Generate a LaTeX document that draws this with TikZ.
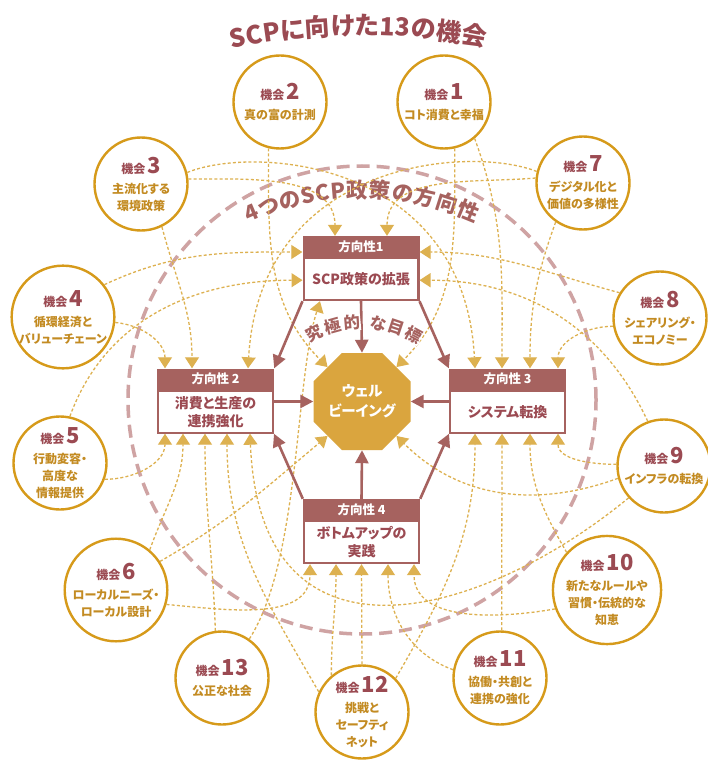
\documentclass[tikz,border=0pt]{standalone}
\usepackage{fontspec}
\setmainfont[RawFeature=+palt]{Noto Sans CJK JP}
\usetikzlibrary{arrows.meta,positioning,shapes.geometric,decorations.text}

\definecolor{rose}{HTML}{A6625F}
\definecolor{rosedark}{HTML}{9B4A52}
\definecolor{gold}{HTML}{D69A1A}
\definecolor{goldtext}{HTML}{C38B22}
\definecolor{goldline}{HTML}{DDB150}
\definecolor{octfill}{HTML}{DAA53E}
\definecolor{pinkdash}{HTML}{CFA3A3}

\newcommand{\kikai}[1]{{\fontsize{12}{12}\selectfont\color{rosedark}機会}\,{\fontsize{22}{22}\selectfont\color{rosedark}#1}\\[3pt]}

\begin{document}
\begin{tikzpicture}[x=1pt,y=1pt]
    %
    % `chance' is used for the 13 opportunity circles.
    % `dirhead' and `dirbody' make up the four direction boxes.
    % `link' is the dashed gold connector, `flow' the solid rose one.
    \tikzstyle{chance} = [circle,draw=gold,line width=2.4pt,fill=white,minimum size=93pt,inner sep=0pt,align=center,text=goldtext,font=\fontsize{12}{17}\selectfont\bfseries]
    \tikzstyle{dirhead} = [fill=rose,text=white,minimum width=117pt,minimum height=21pt,inner sep=0pt,font=\fontsize{12.5}{14}\selectfont\bfseries]
    \tikzstyle{dirbody} = [draw=rose,line width=2.2pt,fill=white,minimum width=114.8pt,minimum height=41.8pt,inner sep=0pt,align=center,text=rosedark,font=\fontsize{14}{18}\selectfont\bfseries]
    \tikzstyle{goal} = [regular polygon,regular polygon sides=8,fill=octfill,minimum size=105pt,inner sep=0pt,align=center,text=white,font=\fontsize{14.5}{20}\selectfont\bfseries]
    \tikzstyle{goalchar} = [fill=white,inner sep=0.3pt,text=rose,font=\fontsize{16.5}{17}\selectfont\bfseries]
    \tikzstyle{ring} = [pinkdash,line width=3.5pt,dash pattern=on 13pt off 7pt]
    \tikzstyle{link} = [goldline,line width=1.3pt,dash pattern=on 3pt off 2.2pt,-{Triangle[width=14pt,length=11pt]}]
    \tikzstyle{flow} = [rose,line width=2.6pt,-{Triangle[width=13pt,length=13pt]}]
    %
    % Canvas and policy ring
    \useasboundingbox[fill=white] (0,0) rectangle (707,-762);
    \draw[ring] (362,-400) circle[radius=234];
    %
    % Curved headings
    \path[decorate,decoration={text along path,text color=rosedark,text align={fit to path},
        text={|\fontsize{25}{25}\selectfont\bfseries|SCPに向けた13の機会}}]
        ([shift={(102:626)}]362,-661) arc[start angle=102,end angle=78.7,radius=626];
    \path[decorate,decoration={text along path,text color=rose,text align={fit to path},
        text={|\fontsize{21.5}{22}\selectfont\bfseries|4つのSCP政策の方向性}}]
        ([shift={(114.5:273)}]362,-471) arc[start angle=114.5,end angle=65.5,radius=273];
    %
    % Opportunities
    \node[chance] (o1) at (444,-102) {\kikai{1}コト消費と幸福};
    \node[chance] (o2) at (280,-102) {\kikai{2}真の富の計測};
    \node[chance] (o3) at (141,-184) {\kikai{3}主流化する\\環境政策};
    \node[chance] (o4) at (63,-317) {\kikai{4}循環経済と\\バリューチェーン};
    \node[chance] (o5) at (60,-463) {\kikai{5}行動変容・\\高度な\\情報提供};
    \node[chance] (o6) at (116,-590) {\kikai{6}ローカルニーズ・\\ローカル設計};
    \node[chance] (o7) at (583,-183) {\kikai{7}デジタル化と\\価値の多様性};
    \node[chance] (o8) at (660,-318) {\kikai{8}シェアリング・\\エコノミー};
    \node[chance] (o9) at (664,-466) {\kikai{9}インフラの転換};
    \node[chance] (o10) at (607,-590) {\kikai{10}新たなルールや\\習慣・伝統的な\\知恵};
    \node[chance] (o11) at (500,-678) {\kikai{11}協働・共創と\\連携の強化};
    \node[chance] (o12) at (362,-712) {\kikai{12}挑戦と\\セーフティ\\ネット};
    \node[chance] (o13) at (222,-678) {\kikai{13}公正な社会};
    %
    % Directions
    \node[dirhead] (d1h) at (361,-246.5) {方向性1};
    \node[dirbody,below=0pt of d1h] (d1) {SCP政策の拡張};
    \node[dirhead] (d2h) at (215.5,-379) {方向性 2};
    \node[dirbody,below=0pt of d2h] (d2) {消費と生産の\\連携強化};
    \node[dirhead] (d3h) at (507.5,-379) {方向性 3};
    \node[dirbody,below=0pt of d3h] (d3) {システム転換};
    \node[dirhead] (d4h) at (361.5,-509.5) {方向性 4};
    \node[dirbody,below=0pt of d4h] (d4) {ボトムアップの\\実践};
    %
    % Goal
    \node[goal] (wb) at (362,-401.5) {ウェル\\ビーイング};
    %
    % Links into direction 1
    \draw[link] (o3.6) to[out=0,in=90] ([xshift=-26pt]d1h.north);
    \draw[link] (o7.174) to[out=185,in=90] ([xshift=26pt]d1h.north);
    \draw[link] (o4.38) to[out=25,in=180] ([yshift=-5.5pt]d1h.west);
    \draw[link] (o5.78) to[out=70,in=180] ([yshift=-1pt]d1.west);
    \draw[link] (o8.148) to[out=165,in=0] ([yshift=-5.5pt]d1h.east);
    \draw[link] (o9.110) to[out=115,in=0] ([yshift=-1pt]d1.east);
    \draw[link] (o13.55) .. controls (300,-560) and (295,-380) .. ([xshift=-41pt]d1.south);
    %
    % Links into the goal
    \draw[link] (o2.256) to[out=-90,in=135] (wb.135);
    \draw[link] (o1.283) to[out=-90,in=45] (wb.45);
    \draw[link] (o6.33) to[out=30,in=220] (wb.225);
    \draw[link] (o9.195) to[out=200,in=-45] (wb.-45);
    %
    % Links into direction 2
    \draw[link] (o4.-6) to[out=-5,in=90] ([xshift=-50.5pt]d2h.north);
    \draw[link] (o3.-64) to[out=-75,in=90] ([xshift=-23.5pt]d2h.north);
    \draw[link] (o7.166) .. controls (470,-145) and (260,-160) .. ([xshift=32.5pt]d2h.north);
    \draw[link] (o5.-20) to[out=0,in=-90] ([xshift=-50.5pt]d2.south);
    \draw[link] (o6.50) to[out=70,in=-90] ([xshift=-32.5pt]d2.south);
    \draw[link] (o13.98) to[out=92,in=-90] ([xshift=-10.5pt]d2.south);
    \draw[link] (o12.155) to[out=120,in=-90] ([xshift=11.5pt]d2.south);
    \draw[link] (o9.222) .. controls (480,-620) and (260,-680) .. ([xshift=34.5pt]d2.south);
    %
    % Links into direction 3
    \draw[link] (o3.14) .. controls (254,-145) and (464,-160) .. ([xshift=-32.5pt]d3h.north);
    \draw[link] (o1.-50) to[out=-70,in=90] ([xshift=-5.5pt]d3h.north);
    \draw[link] (o7.235) to[out=-110,in=90] ([xshift=22.5pt]d3h.north);
    \draw[link] (o8.190) to[out=180,in=90] ([xshift=50.5pt]d3h.north);
    \draw[link] (o12.45) to[out=60,in=-90] ([xshift=-32.5pt]d3.south);
    \draw[link] (o11.88) to[out=90,in=-90] ([xshift=-5.5pt]d3.south);
    \draw[link] (o10.137) to[out=120,in=-90] ([xshift=22.5pt]d3.south);
    \draw[link] (o9.178) to[out=180,in=-90] ([xshift=50.5pt]d3.south);
    %
    % Links into direction 4
    \draw[link] (o6.-16) to[out=-5,in=-90] ([xshift=-51.5pt]d4.south);
    \draw[link] (o12.130) to[out=90,in=-90] ([xshift=-25.5pt]d4.south);
    \draw[link] (o12.90) -- (d4.south);
    \draw[link] (o11.170) to[out=160,in=-90] ([xshift=26.5pt]d4.south);
    \draw[link] (o10.200) to[out=190,in=-90] ([xshift=52.5pt]d4.south);
    %
    % Directions to goal
    \draw[flow] (d1.south west) -- (d2h.north east);
    \draw[flow] (d1.south) -- (wb.north);
    \draw[flow] (d1.south east) -- (d3h.north west);
    \draw[flow] (d2.east |- wb.west) -- (wb.west);
    \draw[flow] (d3.west |- wb.east) -- (wb.east);
    \draw[flow] (d4h.north) -- (wb.south);
    \draw[flow] (d4h.north west) -- (d2.south east);
    \draw[flow] (d4h.north east) -- (d3.south west);
    %
    % Ultimate goal label
    \foreach \ch/\ang [count=\i] in {究/116,極/105.5,的/95.3,な/81,目/71.5,標/61.6}
        \path ([shift={(\ang:108)}]362,-430) node[goalchar,rotate=\ang-90] (goal\i) {\ch};
    %
\end{tikzpicture}
\end{document}
